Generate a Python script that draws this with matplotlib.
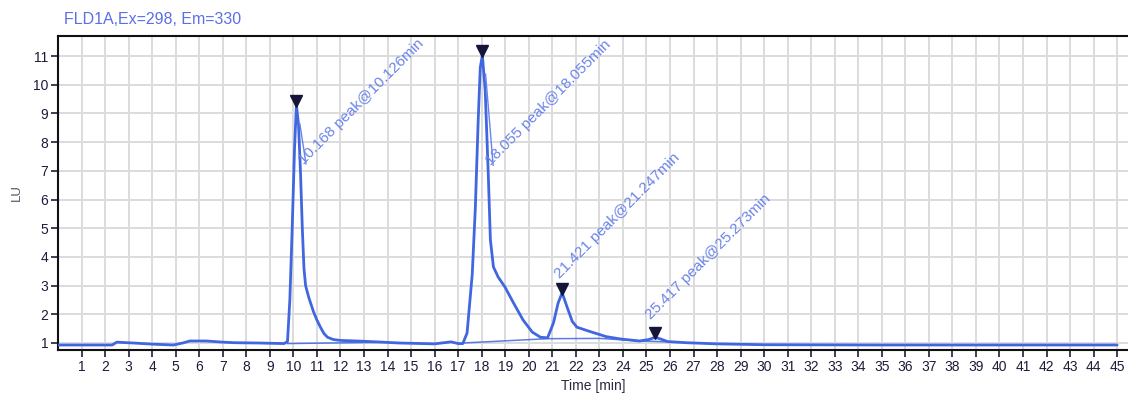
import matplotlib
matplotlib.use("Agg")
import matplotlib.pyplot as plt
import matplotlib.transforms as mtransforms

# ---- data ----
time_min = [0.0, 2.3, 2.5, 2.7, 3.2, 4.0, 4.9, 5.3, 5.6, 6.3, 7.0, 7.5, 8.5, 9.6,
            9.75, 9.85, 9.95, 10.05, 10.13, 10.22, 10.3, 10.38, 10.45, 10.52, 10.65,
            10.85, 11.0, 11.15, 11.3, 11.45, 11.7, 12.0, 13.0, 14.5, 16.0, 16.7, 17.0,
            17.2, 17.38, 17.6, 17.73, 17.85, 17.94, 18.03, 18.15, 18.28, 18.37, 18.5,
            18.7, 18.99, 19.35, 19.76, 20.15, 20.5, 20.8, 21.05, 21.25, 21.42, 21.63,
            21.85, 22.05, 22.6, 23.3, 23.9, 24.7, 25.1, 25.37, 25.6, 25.9, 26.7, 28.0,
            30.0, 35.0, 45.0]
signal_lu = [0.93, 0.93, 1.03, 1.02, 1.0, 0.96, 0.93, 1.0, 1.07, 1.07, 1.03, 1.01, 1.0, 0.98,
             1.05, 2.5, 5.0, 7.8, 9.3, 8.6, 7.0, 5.0, 3.6, 3.0, 2.6,
             2.1, 1.8, 1.55, 1.33, 1.2, 1.12, 1.09, 1.06, 1.0, 0.97, 1.04, 0.98,
             0.98, 1.35, 3.4, 5.7, 8.7, 10.6, 11.03, 9.8, 6.9, 4.6, 3.65,
             3.3, 2.95, 2.4, 1.8, 1.38, 1.2, 1.18, 1.7, 2.4, 2.75, 2.25,
             1.75, 1.55, 1.4, 1.22, 1.14, 1.07, 1.12, 1.2, 1.14, 1.05, 1.01, 0.97,
             0.94, 0.93, 0.93]

baseline1_t = [9.75, 13.5]
baseline1_v = [0.98, 1.02]
baseline2_t = [17.2, 20.8, 23.0, 24.8, 25.9]
baseline2_v = [1.0, 1.15, 1.16, 1.07, 1.04]

peak_t = [10.13, 18.03, 21.42, 25.37]
peak_v = [9.3, 11.03, 2.75, 1.2]
peak_labels = ["10.168 peak@10.126min", "18.055 peak@18.055min",
               "21.421 peak@21.247min", "25.417 peak@25.273min"]

title_text = "FLD1A,Ex=298, Em=330"
x_ticks = list(range(1, 46))
y_ticks = list(range(1, 12))

# ---- drawing ----
plt.rcParams['font.family'] = ['Liberation Sans', 'DejaVu Sans']
fig = plt.figure(figsize=(11.28, 3.96), dpi=100)
ax = fig.add_axes([58/1128, 1-350/396, 1-58/1128, (350-36)/396])

trace_color = '#4066e0'
ax.plot(time_min, signal_lu, color=trace_color, lw=2.0, zorder=3,
        solid_joinstyle='round', solid_capstyle='round')
ax.plot(baseline1_t, baseline1_v, color=trace_color, lw=1.1, alpha=0.85, zorder=2)
ax.plot(baseline2_t, baseline2_v, color=trace_color, lw=1.1, alpha=0.85, zorder=2)

up = mtransforms.offset_copy(ax.transData, fig=fig, x=0, y=4, units='dots')
ax.plot(peak_t, peak_v, linestyle='none', marker='v', markersize=8,
        color='#15153a', transform=up, zorder=4)

# label anchor offsets in pixels relative to peak apex (layout only)
label_off = [(10, -62), (11, -113), (0, 12), (-2, 15)]
for t, v, lab, (dx, dy) in zip(peak_t, peak_v, peak_labels, label_off):
    tr = mtransforms.offset_copy(ax.transData, fig=fig, x=dx, y=dy, units='dots')
    ax.text(t, v, lab, transform=tr, rotation=45, rotation_mode='anchor',
            ha='left', va='bottom', fontsize=11, color='#6a84ea', zorder=5)
    if dy < 0:
        tr0 = mtransforms.offset_copy(ax.transData, fig=fig, x=3, y=-16, units='dots')
        ax.annotate('', xy=(t, v), xycoords=tr0, xytext=(t, v), textcoords=tr,
                    arrowprops=dict(arrowstyle='-', color='#6a84ea', lw=1.0))

ax.set_xlim(0, 45.46)
ax.set_ylim(0.756, 11.70)
ax.set_xticks(x_ticks)
ax.set_yticks(y_ticks)
ax.grid(True, color='#dcdcdc', lw=1.4, zorder=0)
ax.set_axisbelow(True)
ax.tick_params(axis='both', direction='out', length=5, width=1.2,
               colors='#1c1c3a', labelsize=10, pad=2)
for s in ['top', 'left', 'bottom']:
    ax.spines[s].set_linewidth(1.5)
    ax.spines[s].set_color('#111111')
ax.spines['right'].set_visible(False)

ax.set_xlabel('Time [min]', fontsize=10, color='#2a2a40', labelpad=4)
ax.set_ylabel('LU', fontsize=9.5, color='#555566', labelpad=7)
fig.text(64/1128, 1-19/396, title_text, fontsize=11.5, color='#5b6fe6',
         ha='left', va='center')

fig.savefig('out.png', dpi=100)
